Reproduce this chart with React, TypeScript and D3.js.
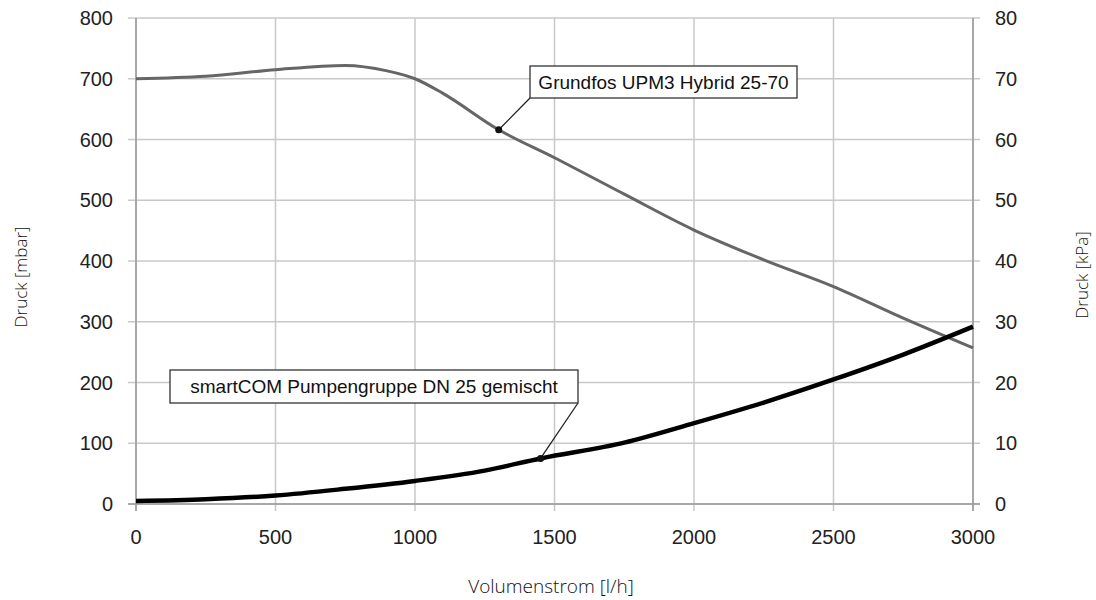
import React from 'react';
import * as d3 from 'd3';

// Volumenstrom [l/h]
const flowGrundfos = [0, 250, 500, 750, 900, 1000, 1100, 1300, 1500, 1750, 2000, 2250, 2500, 2750, 3000];
const pressureGrundfos = [700, 704, 715, 722, 713, 700, 676, 616, 570, 510, 451, 402, 358, 306, 257];

const flowSmart = [0, 250, 500, 750, 1000, 1250, 1450, 1750, 2000, 2250, 2500, 2750, 3000];
const pressureSmart = [5, 8, 14, 25, 38, 55, 75, 101, 133, 167, 205, 246, 292];

const xTicks = [0, 500, 1000, 1500, 2000, 2500, 3000];
const yTicksMbar = [0, 100, 200, 300, 400, 500, 600, 700, 800];
const yTicksKpa = [0, 10, 20, 30, 40, 50, 60, 70, 80];

const labelGrundfos = 'Grundfos UPM3 Hybrid 25-70';
const labelSmart = 'smartCOM Pumpengruppe DN 25 gemischt';

const W = 1096;
const H = 600;
const margin = { left: 136, right: 123, top: 18, bottom: 96 };

export default function App() {
  const x = d3.scaleLinear().domain([0, 3000]).range([margin.left, W - margin.right]);
  const y = d3.scaleLinear().domain([0, 800]).range([H - margin.bottom, margin.top]);
  const yK = d3.scaleLinear().domain([0, 80]).range([H - margin.bottom, margin.top]);

  const line = d3
    .line<[number, number]>()
    .x((d) => x(d[0]))
    .y((d) => y(d[1]))
    .curve(d3.curveMonotoneX);

  const grundfos = flowGrundfos.map((f, i) => [f, pressureGrundfos[i]] as [number, number]);
  const smart = flowSmart.map((f, i) => [f, pressureSmart[i]] as [number, number]);

  const x0 = x(0);
  const x1 = x(3000);
  const y0 = y(0);
  const y1 = y(800);

  // annotation anchor points on the curves
  const gx = x(1300), gy = y(616);
  const sx = x(1450), sy = y(75);

  const font = 'Liberation Sans, Arial, sans-serif';
  const titleFont = '"Open Sans", "Noto Sans", sans-serif';

  return (
    <svg width={W} height={H} style={{ display: 'block', position: 'absolute', left: 0, top: 0 }}>
      <rect width={W} height={H} fill="#fff" />
      {/* grid */}
      {yTicksMbar.map((t) => (
        <line key={'gy' + t} x1={x0 - 8} x2={x1 + 7} y1={y(t)} y2={y(t)} stroke="#c8c8c8" strokeWidth={1.5} />
      ))}
      {xTicks.map((t) => (
        <line key={'gx' + t} x1={x(t)} x2={x(t)} y1={y1} y2={y0 + 7} stroke="#c8c8c8" strokeWidth={1.5} />
      ))}
      {/* axes */}
      <line x1={x0} x2={x0} y1={y1} y2={y0 + 7} stroke="#999" strokeWidth={1.5} />
      <line x1={x1} x2={x1} y1={y1} y2={y0 + 7} stroke="#999" strokeWidth={1.5} />
      <line x1={x0 - 8} x2={x1 + 7} y1={y0} y2={y0} stroke="#999" strokeWidth={1.5} />

      {/* tick labels */}
      {yTicksMbar.map((t) => (
        <text key={'ly' + t} x={x0 - 23} y={y(t)} dy="0.36em" textAnchor="end" fontFamily={font} fontSize={20} fill="#222">
          {t}
        </text>
      ))}
      {yTicksKpa.map((t) => (
        <text key={'lk' + t} x={x1 + 22} y={yK(t)} dy="0.36em" textAnchor="start" fontFamily={font} fontSize={20} fill="#222">
          {t}
        </text>
      ))}
      {xTicks.map((t) => (
        <text key={'lx' + t} x={x(t)} y={y0 + 40} textAnchor="middle" fontFamily={font} fontSize={20} fill="#222">
          {t}
        </text>
      ))}

      {/* axis titles */}
      <text transform="translate(27,277) rotate(-90)" textAnchor="middle" fontFamily={titleFont} fontWeight={300} fontSize={17} fill="#111">
        Druck [mbar]
      </text>
      <text transform="translate(1088,275) rotate(-90)" textAnchor="middle" fontFamily={titleFont} fontWeight={300} fontSize={17} fill="#111">
        Druck [kPa]
      </text>
      <text x={551} y={593} textAnchor="middle" fontFamily={titleFont} fontWeight={300} fontSize={19} fill="#111">
        Volumenstrom [l/h]
      </text>

      {/* curves */}
      <path d={line(grundfos) ?? ''} fill="none" stroke="#666" strokeWidth={3} />
      <path d={line(smart) ?? ''} fill="none" stroke="#000" strokeWidth={4.5} />

      {/* annotations */}
      <line x1={530} y1={98} x2={gx} y2={gy} stroke="#222" strokeWidth={1.3} />
      <circle cx={gx} cy={gy} r={3.5} fill="#111" />
      <rect x={530} y={66} width={267} height={32} fill="#fff" stroke="#333" strokeWidth={1.3} />
      <text x={663.5} y={82} dy="0.36em" textAnchor="middle" fontFamily={font} fontSize={19} fill="#111">
        {labelGrundfos}
      </text>

      <line x1={578} y1={403} x2={sx} y2={sy} stroke="#222" strokeWidth={1.3} />
      <circle cx={sx} cy={sy} r={3.5} fill="#111" />
      <rect x={170} y={370} width={408} height={33} fill="#fff" stroke="#333" strokeWidth={1.3} />
      <text x={374} y={386.5} dy="0.36em" textAnchor="middle" fontFamily={font} fontSize={19} fill="#111">
        {labelSmart}
      </text>
    </svg>
  );
}
